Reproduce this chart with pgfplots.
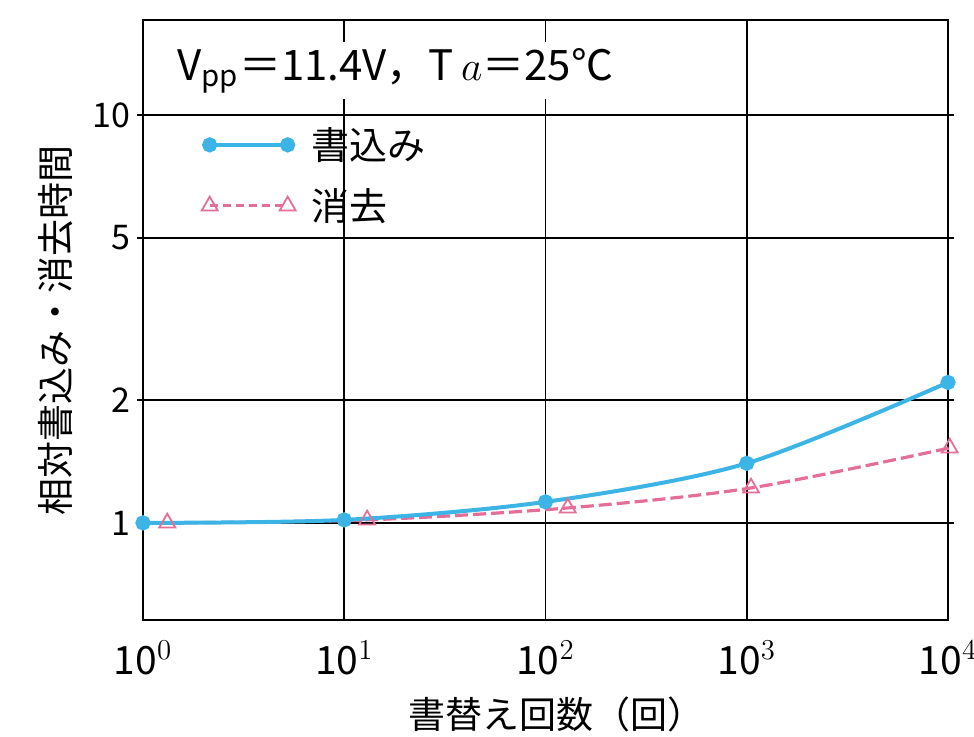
\documentclass[border=0pt]{standalone}
\usepackage{pgfplots}
\pgfplotsset{compat=1.18}
\usepackage{fontspec}
\setmainfont{Noto Sans CJK JP}
\definecolor{wblue}{RGB}{60,180,230}
\definecolor{epink}{RGB}{228,110,150}
\begin{document}
\begin{tikzpicture}
\begin{axis}[name=ax,
  scale only axis, width=402.5pt, height=300pt,
  xmode=log, ymode=log,
  xmin=1, xmax=10000, ymin=0.578, ymax=17.1,
  clip=false,
  xtick={1,10,100,1000,10000},
  xticklabels={10$^{0}$,10$^{1}$,10$^{2}$,10$^{3}$,10$^{4}$},
  ytick={1,2,5,10}, yticklabels={1,2,5,10},
  minor xtick={}, minor ytick={},
  grid=major, major grid style={black, line width=0.9pt},
  axis line style={line width=1.3pt},
  tick align=outside, major tick length=3pt, tick style={black, line width=0.8pt},
  xtick style={draw=none},
  xticklabel style={font=\fontsize{19.5}{22}\selectfont, yshift=-4pt},
  yticklabel style={font=\fontsize{17}{20}\selectfont},
  xlabel={書替え回数（回）},
  xlabel style={font=\fontsize{18.5}{22}\selectfont, at={(axis description cs:0.514,-0.158)}, anchor=center},
  ylabel={相対書込み・消去時間},
  ylabel style={font=\fontsize{18.5}{22}\selectfont, at={(axis description cs:-0.109,0.483)}, anchor=center},
  legend style={at={(axis description cs:0.065,0.835)}, anchor=north west, draw=none, fill=none,
    font=\fontsize{19}{22}\selectfont, row sep=9pt, cells={anchor=west}},
  legend image code/.code={\draw[mark repeat=1,#1] plot coordinates {(0pt,0pt) (39pt,0pt)};},
]
\addlegendimage{wblue, line width=2pt, mark=*, mark size=2.8pt, mark options={solid, fill=wblue, draw=wblue}}
\addlegendentry{\hspace{6pt}書込み}
\addlegendimage{epink, line width=1.6pt, dash pattern=on 4pt off 2.5pt, mark=triangle, mark size=4.6pt, mark options={solid, line width=0.9pt, fill=white}}
\addlegendentry{\hspace{6pt}消去}
% erase line
\addplot[epink, line width=1.6pt, dash pattern=on 6.5pt off 2.5pt, smooth, forget plot] coordinates {
 (1.32,1.0) (13,1.017) (129,1.088) (1050,1.218) (10200,1.527)};
% write line
\addplot[wblue, line width=2pt, smooth, mark=*, mark size=2.8pt, mark options={fill=wblue, draw=wblue}, forget plot] coordinates {
 (1,1.0) (10,1.017) (100,1.126) (1000,1.40) (10000,2.21)};
% erase marks
\addplot[epink, only marks, mark=triangle, mark size=4.6pt, mark options={line width=0.9pt, fill=white}, forget plot] coordinates {
 (1.32,1.0) (13,1.017) (129,1.088) (1050,1.218) (10200,1.527)};
\node[anchor=west, fill=white, inner sep=3pt, font=\fontsize{21}{24}\selectfont] at (axis description cs:0.035,0.915)
  {V\textsubscript{pp}＝11.4V，T\,$a$＝25℃};
\end{axis}
\pgfresetboundingbox
\path ([xshift=-71.5pt,yshift=-58.5pt]ax.south west) rectangle ([xshift=13pt,yshift=10pt]ax.north east);
\end{tikzpicture}
\end{document}
